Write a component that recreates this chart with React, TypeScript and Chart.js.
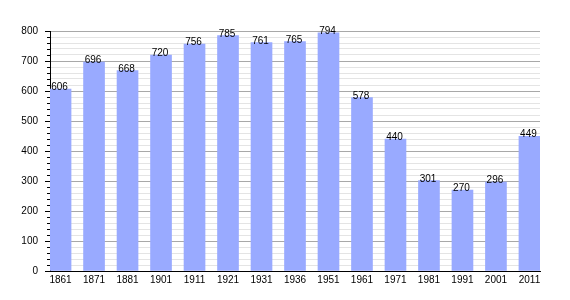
import React, { useEffect, useRef } from "react";
import { Chart, registerables } from "chart.js";
Chart.register(...registerables);

const years = ["1861","1871","1881","1901","1911","1921","1931","1936","1951","1961","1971","1981","1991","2001","2011"];
const population = [606, 696, 668, 720, 756, 785, 761, 765, 794, 578, 440, 301, 270, 296, 449];

const FONT = "'Liberation Sans', Arial, sans-serif";

const valueLabels = {
  id: "valueLabels",
  afterDatasetsDraw(chart: any) {
    const ctx = chart.ctx;
    const meta = chart.getDatasetMeta(0);
    ctx.save();
    ctx.font = `10px ${FONT}`;
    ctx.fillStyle = "#000";
    ctx.textAlign = "center";
    ctx.textBaseline = "alphabetic";
    meta.data.forEach((bar: any, i: number) => {
      ctx.fillText(String(population[i]), bar.x - 1, bar.y + 1);
    });
    ctx.restore();
  },
};

const yTicks = {
  id: "yTicks",
  afterDraw(chart: any) {
    const ctx = chart.ctx;
    const y = chart.scales.y;
    const left = chart.chartArea.left;
    ctx.save();
    ctx.strokeStyle = "#000";
    ctx.lineWidth = 1;
    y.ticks.forEach((t: any) => {
      const py = Math.round(y.getPixelForValue(t.value)) + 0.5;
      const len = t.value % 100 === 0 ? 5 : 3;
      ctx.beginPath();
      ctx.moveTo(left - len, py);
      ctx.lineTo(left, py);
      ctx.stroke();
    });
    ctx.restore();
  },
};

export default function App() {
  const ref = useRef<HTMLCanvasElement>(null);
  useEffect(() => {
    document.body.style.margin = "0";
    const chart = new Chart(ref.current!, {
      type: "bar",
      data: {
        datasets: [
          {
            data: population.map((v, i) => ({ x: i, y: v })),
            backgroundColor: "rgb(153,170,255)",
            barThickness: 21,
          },
        ],
      },
      options: {
        animation: false,
        responsive: false,
        maintainAspectRatio: false,
        layout: { padding: { top: 31, right: 30, left: 0, bottom: 0 } },
        plugins: { legend: { display: false }, tooltip: { enabled: false } },
        scales: {
          x: {
            type: "linear",
            min: -0.315,
            max: 14.315,
            offset: false,
            afterBuildTicks: (scale: any) => {
              scale.ticks = years.map((_, i) => ({ value: i }));
            },
            afterFit: (scale: any) => {
              scale.height = 29;
            },
            grid: { display: false, drawTicks: false },
            border: { display: true, color: "#000", width: 1 },
            ticks: {
              autoSkip: false,
              maxRotation: 0,
              padding: 3,
              color: "#000",
              font: { family: FONT, size: 10 },
              callback: (v: any) => years[Math.round(v)] ?? "",
            },
          },
          y: {
            min: 0,
            max: 800,
            afterFit: (scale: any) => {
              scale.width = 50;
            },
            grid: {
              color: (c: any) => (c.tick && c.tick.value % 100 === 0 ? "#a8a8a8" : "#e4e4e4"),
              drawTicks: false,
              lineWidth: 1,
            },
            border: { display: true, color: "#000", width: 1 },
            ticks: {
              stepSize: 20,
              autoSkip: false,
              padding: 12,
              color: "#000",
              font: { family: FONT, size: 10 },
              callback: (v: any) => (Number(v) % 100 === 0 ? String(v) : ""),
            },
          },
        },
      },
      plugins: [valueLabels, yTicks],
    } as any);
    return () => chart.destroy();
  }, []);
  return <canvas ref={ref} width={570} height={300} style={{ display: "block" }} />;
}
